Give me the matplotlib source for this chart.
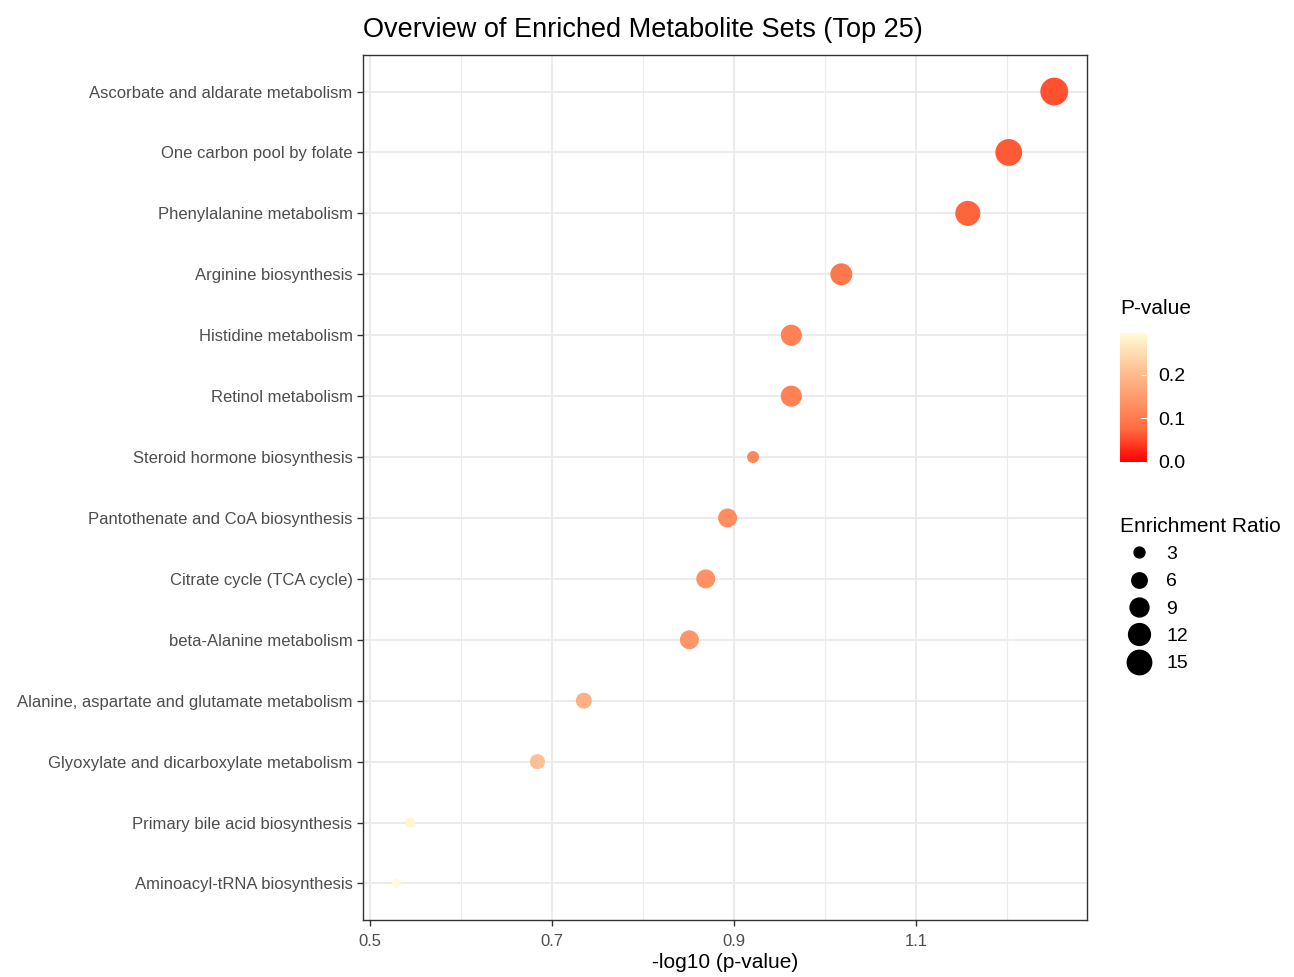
import numpy as np
import matplotlib
matplotlib.use("Agg")
import matplotlib.pyplot as plt
from matplotlib.colors import LinearSegmentedColormap, Normalize
from matplotlib.lines import Line2D

# metabolite sets, top to bottom
pathways = [
    "Ascorbate and aldarate metabolism",
    "One carbon pool by folate",
    "Phenylalanine metabolism",
    "Arginine biosynthesis",
    "Histidine metabolism",
    "Retinol metabolism",
    "Steroid hormone biosynthesis",
    "Pantothenate and CoA biosynthesis",
    "Citrate cycle (TCA cycle)",
    "beta-Alanine metabolism",
    "Alanine, aspartate and glutamate metabolism",
    "Glyoxylate and dicarboxylate metabolism",
    "Primary bile acid biosynthesis",
    "Aminoacyl-tRNA biosynthesis",
]
neg_log_p = [1.252, 1.202, 1.157, 1.018, 0.963, 0.963, 0.921, 0.893, 0.869,
             0.851, 0.735, 0.684, 0.544, 0.529]
enrichment = [21.5, 20.0, 17.4, 13.4, 12.3, 12.3, 4.0, 10.0, 10.0, 10.0,
              7.1, 6.3, 2.8, 2.3]
size_breaks = [3, 6, 9, 12, 15]

p_values = [10 ** (-v) for v in neg_log_p]

plt.rcParams['font.family'] = ['Liberation Sans', 'DejaVu Sans']

cmap = LinearSegmentedColormap.from_list(
    "p", [(0.0, "#FF0000"), (0.25, "#FF6A40"), (0.5, "#FF9A6C"),
          (0.75, "#FFC89C"), (1.0, "#FFFBD6")])
norm = Normalize(vmin=0.0, vmax=max(p_values))

def area(v):
    # marker area in pt^2, proportional to ratio
    return (0.72 * 6.0) ** 2 * np.asarray(v)

fig = plt.figure(figsize=(12.94, 9.77), dpi=100)
ax = fig.add_axes([363 / 1294, 1 - 920 / 977, (1087 - 363) / 1294, (920 - 55) / 977])

ypos = np.arange(len(pathways))[::-1]
ax.scatter(neg_log_p, ypos, s=area(enrichment), c=p_values, cmap=cmap, norm=norm,
           linewidths=0, zorder=3)

ax.set_xlim(0.4923, 1.288)
ax.set_ylim(-0.6, len(pathways) - 0.4)
ax.set_yticks(ypos)
ax.set_yticklabels(pathways)
ax.set_xticks([0.5, 0.7, 0.9, 1.1])
ax.set_xticklabels(["0.5", "0.7", "0.9", "1.1"])
ax.set_xticks([0.6, 0.8, 1.0, 1.2], minor=True)
ax.tick_params(which="minor", length=0)
ax.tick_params(which="major", length=4, width=1, color="#333333",
               labelcolor="#4D4D4D", labelsize=12)
ax.tick_params(axis="x", pad=6)
ax.grid(which="major", color="#EBEBEB", linewidth=1.4, zorder=0)
ax.grid(which="minor", axis="x", color="#EBEBEB", linewidth=0.8, zorder=0)
ax.set_axisbelow(True)
for sp in ax.spines.values():
    sp.set_color("#333333")
    sp.set_linewidth(1.0)

ax.set_xlabel("-log10 (p-value)", fontsize=15, labelpad=3)
ax.set_title("Overview of Enriched Metabolite Sets (Top 25)", fontsize=19.5,
             loc="left", pad=13)

# colour bar
cax = fig.add_axes([1120 / 1294, 1 - 462 / 977, 27 / 1294, 129 / 977])
cb = fig.colorbar(plt.cm.ScalarMappable(norm=norm, cmap=cmap), cax=cax)
cb.outline.set_visible(False)
cb.set_ticks([0.0, 0.1, 0.2])
cb.set_ticklabels(["0.0", "0.1", "0.2"])
cax.tick_params(length=4, color="white", direction="in", labelsize=14,
                labelcolor="black", pad=8)
fig.text(1120 / 1294, 1 - 308 / 977, "P-value", fontsize=15, va="center")

# size legend
handles = [Line2D([], [], linestyle="none", marker="o", color="black",
                  markersize=0.72 * 6.3 * np.sqrt(b)) for b in size_breaks]
leg = fig.legend(handles, [str(b) for b in size_breaks], loc="upper left",
                 bbox_to_anchor=(1112 / 1294, 1 - 509 / 977), frameon=False,
                 title="Enrichment Ratio", title_fontsize=15, fontsize=14,
                 labelspacing=0.5, handletextpad=0.4, borderaxespad=0)
leg._legend_box.align = "left"

fig.savefig("out.png", dpi=100)
